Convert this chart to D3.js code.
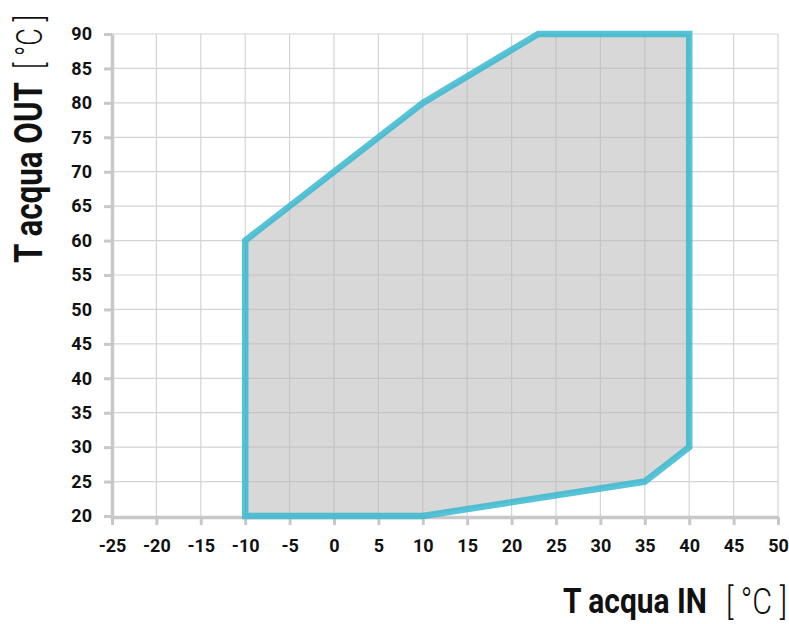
<!DOCTYPE html>
<html><head><meta charset="utf-8">
<script src="https://cdn.jsdelivr.net/npm/d3@7"></script>
<style>
body{margin:0;background:#fff;}
text{font-family:Roboto,"DejaVu Sans",sans-serif;}
</style></head>
<body><svg id="c" width="789" height="624"></svg>
<script>
const xTicks = [-25,-20,-15,-10,-5,0,5,10,15,20,25,30,35,40,45,50];
const yTicks = [20,25,30,35,40,45,50,55,60,65,70,75,80,85,90];
const envelopeX = [-10,-10,10,23,40,40,35,10];
const envelopeY = [20,60,80,90,90,30,25,20];

const svg = d3.select("#c");
const x = d3.scaleLinear().domain([-25,50]).range([112,778]);
const y = d3.scaleLinear().domain([20,90]).range([516,34]);
const fmt = d => String(d);

// grid
svg.append("g").selectAll("line").data(xTicks.slice(1)).join("line")
  .attr("x1",d=>x(d)).attr("x2",d=>x(d)).attr("y1",y(90)).attr("y2",y(20))
  .attr("stroke","#d4d4d4").attr("stroke-width",1.2);
svg.append("g").selectAll("line").data(yTicks.slice(1)).join("line")
  .attr("x1",x(-25)).attr("x2",x(50)).attr("y1",d=>y(d)).attr("y2",d=>y(d))
  .attr("stroke","#d4d4d4").attr("stroke-width",1.2);

// axes
const xAxis = d3.axisBottom(x).tickValues(xTicks).tickFormat(fmt).tickSize(8).tickPadding(14).tickSizeOuter(0);
const gx = svg.append("g").attr("transform",`translate(0,${y(20)+1})`).call(xAxis);
const yAxis = d3.axisLeft(y).tickValues(yTicks).tickFormat(fmt).tickSize(8).tickPadding(12).tickSizeOuter(0);
const gy = svg.append("g").attr("transform",`translate(${x(-25)},0)`).call(yAxis);
[gx,gy].forEach(g=>{
  g.attr("font-family",null).attr("font-size",null);
  g.select(".domain").attr("stroke","#c8c8c8").attr("stroke-width",3.5);
  g.selectAll(".tick line").attr("stroke","#c8c8c8").attr("stroke-width",3);
  g.selectAll(".tick text").attr("fill","#111").attr("font-size",18).attr("font-weight","bold");
});

// envelope
const pts = envelopeX.map((v,i)=>[x(v),y(envelopeY[i])]);
svg.append("path").attr("d",d3.line()(pts)+"Z")
  .attr("fill","#b8b8b8").attr("fill-opacity",0.55)
  .attr("stroke","#3ab8d0").attr("stroke-opacity",0.85)
  .attr("stroke-width",6.5).attr("stroke-linejoin","miter");

// titles: text squeezed horizontally to a target length
function title(tx, ty, rot, str, size, weight, len){
  const g = svg.append("g").attr("transform",`translate(${tx},${ty}) rotate(${rot})`);
  const t = g.append("text").attr("fill","#111").attr("font-size",size).attr("font-weight",weight).text(str);
  const w = t.node().getComputedTextLength();
  t.attr("transform",`scale(${len/w},1)`);
}
title(563,613,0,"T acqua IN",35,"bold",144);
title(726,614,0,"[ °C ]",36,300,61);
title(42,263,-90,"T acqua OUT",39,"bold",181);
title(42,69,-90,"[ °C ]",37,300,54);
</script></body></html>
